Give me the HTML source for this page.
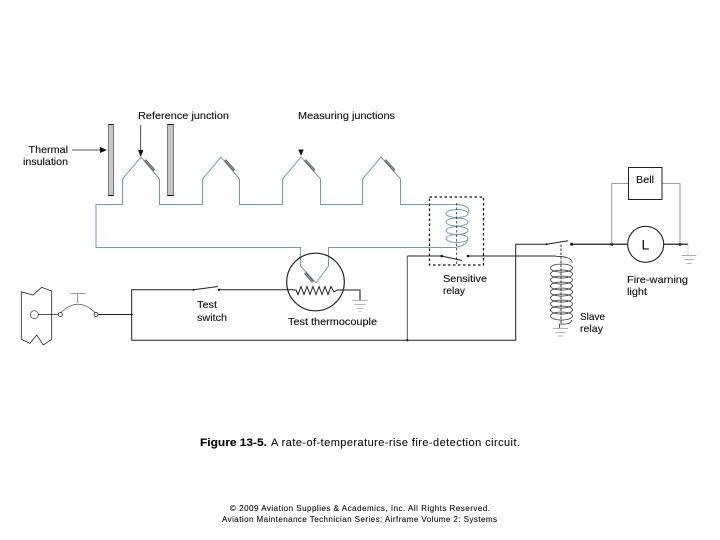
<!DOCTYPE html>
<html><head><meta charset="utf-8"><style>
html,body{margin:0;padding:0;background:#fff;width:720px;height:540px;overflow:hidden}
svg{display:block}
text{font-family:"Liberation Sans",sans-serif;fill:#111;font-size:10.5px;stroke:#111;stroke-width:0.12}
</style></head><body>
<svg width="720" height="540" viewBox="0 0 720 540" xmlns="http://www.w3.org/2000/svg">
<rect width="720" height="540" fill="#fff"/>
<!-- insulation bars -->
<rect x="108.500" y="124.500" width="5" height="71" fill="#c6c6c6" stroke="#666" stroke-width="0.800"/>
<rect x="167.500" y="124.500" width="6" height="71" fill="#c6c6c6" stroke="#666" stroke-width="0.800"/>
<path d="M108.500 124.500H113.500M108.500 195.500H113.500M167.500 124.500H173.500M167.500 195.500H173.500" stroke="#111" stroke-width="1" fill="none"/>
<!-- thermocouple wires -->
<g fill="none" stroke="#6f9db3" stroke-width="1">
<path d="M456.500 204.500H400.500V179L381 157L362.500 179V204.500H320.500V179L301 157L282.500 179V204.500H239.500V179L221 157L202.500 179V204.500H159.500V179L141 157L122.500 179V204.500H96V247.500H300.500V266L316 283L328.500 266V247.500H456.500"/>
<!-- sensitive coil -->
<path d="M456 204.500C470 205 470 211 468 213M468 238C468 245 458 247 456 247"/>
<ellipse cx="457" cy="213.500" rx="11" ry="4"/>
<ellipse cx="457" cy="222" rx="11" ry="4"/>
<ellipse cx="457" cy="230.500" rx="11" ry="4"/>
<ellipse cx="457" cy="238.500" rx="11" ry="4"/>
</g>
<!-- junction marks -->
<g stroke="#444" stroke-width="2.400" fill="none">
<path d="M145 160L154.500 170.500"/><path d="M225 160L234.500 170.500"/><path d="M305 160L314.500 170.500"/><path d="M385 160L394.500 170.500"/><path d="M305 273L313 282"/>
</g>
<g stroke="#bbb" stroke-width="0.800" fill="none">
<path d="M145 160L154.500 170.500"/><path d="M225 160L234.500 170.500"/><path d="M305 160L314.500 170.500"/><path d="M385 160L394.500 170.500"/><path d="M305 273L313 282"/>
</g>
<!-- dashed relay box -->
<rect x="429.500" y="197" width="54" height="68" fill="none" stroke="#111" stroke-width="1.300" stroke-dasharray="2.500 2.500"/>
<path d="M456.700 203V265" stroke="#222" stroke-width="0.800" stroke-dasharray="2.500 2" fill="none"/>
<!-- arrows -->
<g stroke="#222" stroke-width="0.800" fill="none"><path d="M72 150H104"/><path d="M140.700 125V153"/></g>
<g fill="#111"><path d="M107 150L100 147V153Z"/><path d="M140.700 157L138 150H143.400Z"/><path d="M301 156L298.300 149.500H303.700Z"/></g>
<!-- left connector -->
<g fill="none" stroke="#222" stroke-width="0.800">
<path d="M21.300 291.700L33 295L41.700 287.300L51.700 291V339.300L43.300 345L36.700 335L30 343.300L21.300 339.300Z"/>
<circle cx="34.300" cy="314.700" r="4" stroke="#555"/>
<path d="M38.300 314.500H58.300"/>
<circle cx="60.300" cy="314.500" r="2"/><circle cx="96" cy="314.500" r="2"/>
<path d="M61 312.500Q78 296 95 312.500" stroke="#555"/>
<path d="M77.700 293.500V303M70.700 293.500H85.700" stroke="#777"/>
</g>
<!-- main black wires -->
<g fill="none" stroke="#222" stroke-width="1">
<path d="M98 314.500H131.700"/>
<path d="M193.700 289.800H131.700V340.300H515.700V244.300H546.700"/>
<path d="M193.700 289.800L218 286.500"/>
<path d="M219 289.800H293"/>
<path d="M293 290L296 290L298 294.500L301 286.500L304 294.500L307 286.500L310 294.500L313 286.500L316 294.500L319 286.500L322 294.500L325 286.500L328 294.500L331 286.500L334 292L337 290"/>
<path d="M407.300 340.300V256" stroke="#555"/>
<path d="M407.300 256H441.700L462 260.500"/>
<path d="M468 256H556"/>
<path d="M546.700 244.300L568 240.700"/>
<circle cx="315.500" cy="282" r="28.800" stroke-width="1.200"/>
</g>
<path d="M337 290H360V300" fill="none" stroke="#444" stroke-width="1.300"/>
<path d="M571.700 244.300H627.700M663.700 244.300H688" stroke="#444" stroke-width="1.500" fill="none"/>
<!-- nodes -->
<g fill="#111"><circle cx="131.700" cy="314.500" r="1"/><circle cx="193.700" cy="289.800" r="1"/><circle cx="219" cy="289.800" r="1.200"/><circle cx="407.300" cy="340.300" r="1.200"/><circle cx="441.700" cy="256" r="1.300"/><circle cx="468" cy="256" r="1.300"/><circle cx="546.700" cy="244.300" r="1"/><circle cx="571.700" cy="244.300" r="1.500"/><circle cx="611.700" cy="244.300" r="1.500"/><circle cx="680" cy="244.300" r="1.500"/></g>
<!-- Bell / L -->
<path d="M611.700 244.300V183.500H628M662 183.500H680V244.300" fill="none" stroke="#999" stroke-width="1"/>
<rect x="628.500" y="167.500" width="33.500" height="32" fill="#fff" stroke="#222" stroke-width="1"/>
<circle cx="645.700" cy="244.300" r="18" fill="#fff" stroke="#222" stroke-width="1.100"/>
<!-- grounds -->
<g stroke="#999" stroke-width="0.800" fill="none">
<path d="M352 300.500H368M354.500 304.500H365.500M357 308.500H363M359 311.500H361"/>
<path d="M681.500 255.500H696.500M684 259.500H694M686.500 263.500H691.500"/>
<path d="M553 328.500H568M555.500 332.500H565.500M558 336H563"/>
<path d="M688 244.300V255" stroke="#ccc"/>
</g>
<!-- slave coil -->
<g fill="none" stroke="#333" stroke-width="0.800">
<path d="M556 256.500C566 256 573 259 572 263"/>
<ellipse cx="561.500" cy="268" rx="11" ry="4"/><ellipse cx="561.500" cy="274" rx="11" ry="4"/><ellipse cx="561.500" cy="280" rx="11" ry="4"/><ellipse cx="561.500" cy="286" rx="11" ry="4"/><ellipse cx="561.500" cy="292" rx="11" ry="4"/><ellipse cx="561.500" cy="298" rx="11" ry="4"/><ellipse cx="561.500" cy="304" rx="11" ry="4"/><ellipse cx="561.500" cy="310" rx="11" ry="4"/><ellipse cx="561.500" cy="316" rx="11" ry="4"/>
<path d="M572 320C570 325 565 324 559.500 324V328"/>
<path d="M561 244.500V324" stroke-dasharray="2.500 1.500" stroke-width="1"/>
</g>
<!-- labels -->
<text x="138" y="119" textLength="91" lengthAdjust="spacingAndGlyphs">Reference junction</text>
<text x="298" y="119" textLength="97" lengthAdjust="spacingAndGlyphs">Measuring junctions</text>
<text x="28.500" y="153" textLength="39.500" lengthAdjust="spacingAndGlyphs">Thermal</text>
<text x="23" y="165" textLength="45" lengthAdjust="spacingAndGlyphs">insulation</text>
<text x="197" y="308" textLength="20" lengthAdjust="spacingAndGlyphs">Test</text>
<text x="197" y="321" textLength="30" lengthAdjust="spacingAndGlyphs">switch</text>
<text x="288" y="325" textLength="89" lengthAdjust="spacingAndGlyphs">Test thermocouple</text>
<text x="443" y="282" textLength="44" lengthAdjust="spacingAndGlyphs">Sensitive</text>
<text x="443" y="294" textLength="22" lengthAdjust="spacingAndGlyphs">relay</text>
<text x="580" y="320" textLength="25" lengthAdjust="spacingAndGlyphs">Slave</text>
<text x="580" y="332" textLength="23" lengthAdjust="spacingAndGlyphs">relay</text>
<text x="627" y="283" textLength="61" lengthAdjust="spacingAndGlyphs">Fire-warning</text>
<text x="627" y="295" textLength="20" lengthAdjust="spacingAndGlyphs">light</text>
<text x="636" y="183" textLength="18" lengthAdjust="spacingAndGlyphs">Bell</text>
<text x="641.500" y="249.500" style="font-size:14px">L</text>
<text x="200" y="446" textLength="67" lengthAdjust="spacingAndGlyphs" style="font-size:11px;font-weight:bold;fill:#000">Figure 13-5.</text>
<text x="271" y="446" textLength="249" lengthAdjust="spacing" style="font-size:11px;fill:#111">A rate-of-temperature-rise fire-detection circuit.</text>
<text x="230" y="511" textLength="260" lengthAdjust="spacing" style="font-size:8px;fill:#111">© 2009 Aviation Supplies &amp; Academics, Inc. All Rights Reserved.</text>
<text x="222" y="522" textLength="275" lengthAdjust="spacing" style="font-size:8px;fill:#111">Aviation Maintenance Technician Series: Airframe Volume 2: Systems</text>
</svg>
</body></html>
